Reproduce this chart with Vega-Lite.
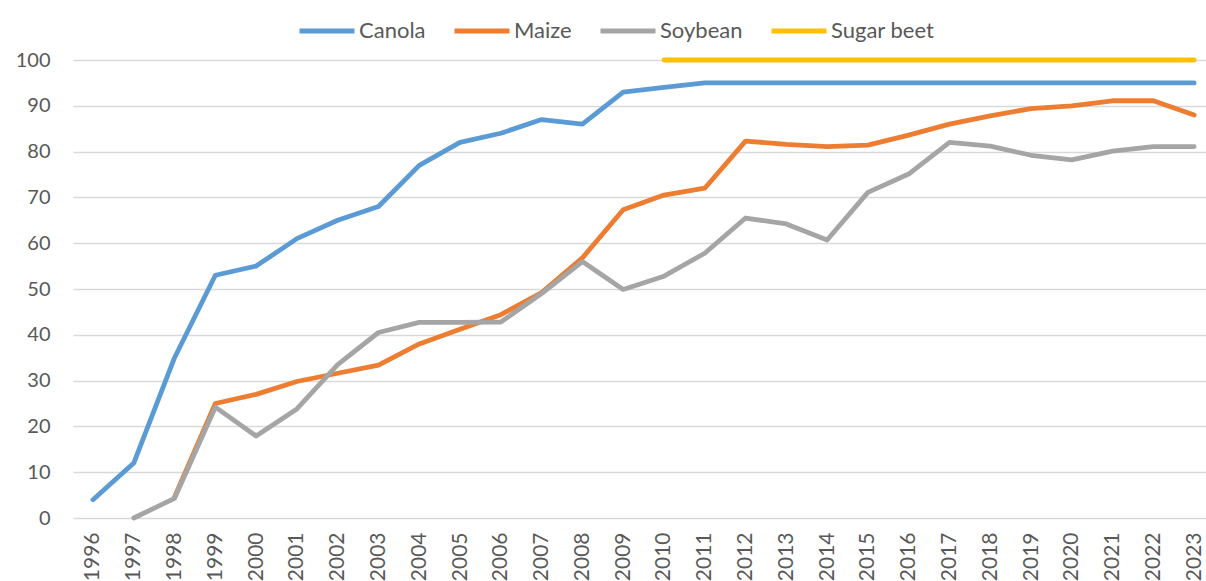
{
  "$schema": "https://vega.github.io/schema/vega-lite/v6.json",
  "width": 1133,
  "height": 458,
  "autosize": {"type": "none"},
  "padding": {"left": 73, "top": 60, "right": 0, "bottom": 63},
  "background": "white",
  "config": {
    "view": {"stroke": null},
    "font": "Lato"
  },
  "data": {"values": [
    {"year": 1996, "crop": "Canola", "pct": 4},
    {"year": 1997, "crop": "Canola", "pct": 12},
    {"year": 1998, "crop": "Canola", "pct": 35},
    {"year": 1999, "crop": "Canola", "pct": 53},
    {"year": 2000, "crop": "Canola", "pct": 55},
    {"year": 2001, "crop": "Canola", "pct": 61},
    {"year": 2002, "crop": "Canola", "pct": 65},
    {"year": 2003, "crop": "Canola", "pct": 68},
    {"year": 2004, "crop": "Canola", "pct": 77},
    {"year": 2005, "crop": "Canola", "pct": 82},
    {"year": 2006, "crop": "Canola", "pct": 84},
    {"year": 2007, "crop": "Canola", "pct": 87},
    {"year": 2008, "crop": "Canola", "pct": 86},
    {"year": 2009, "crop": "Canola", "pct": 93},
    {"year": 2010, "crop": "Canola", "pct": 94},
    {"year": 2011, "crop": "Canola", "pct": 95},
    {"year": 2012, "crop": "Canola", "pct": 95},
    {"year": 2013, "crop": "Canola", "pct": 95},
    {"year": 2014, "crop": "Canola", "pct": 95},
    {"year": 2015, "crop": "Canola", "pct": 95},
    {"year": 2016, "crop": "Canola", "pct": 95},
    {"year": 2017, "crop": "Canola", "pct": 95},
    {"year": 2018, "crop": "Canola", "pct": 95},
    {"year": 2019, "crop": "Canola", "pct": 95},
    {"year": 2020, "crop": "Canola", "pct": 95},
    {"year": 2021, "crop": "Canola", "pct": 95},
    {"year": 2022, "crop": "Canola", "pct": 95},
    {"year": 2023, "crop": "Canola", "pct": 95},
    {"year": 1998, "crop": "Maize", "pct": 4.6},
    {"year": 1999, "crop": "Maize", "pct": 25},
    {"year": 2000, "crop": "Maize", "pct": 27},
    {"year": 2001, "crop": "Maize", "pct": 29.8},
    {"year": 2002, "crop": "Maize", "pct": 31.6},
    {"year": 2003, "crop": "Maize", "pct": 33.4},
    {"year": 2004, "crop": "Maize", "pct": 38},
    {"year": 2005, "crop": "Maize", "pct": 41.2},
    {"year": 2006, "crop": "Maize", "pct": 44.4},
    {"year": 2007, "crop": "Maize", "pct": 49.2},
    {"year": 2008, "crop": "Maize", "pct": 56.8},
    {"year": 2009, "crop": "Maize", "pct": 67.3},
    {"year": 2010, "crop": "Maize", "pct": 70.5},
    {"year": 2011, "crop": "Maize", "pct": 72},
    {"year": 2012, "crop": "Maize", "pct": 82.3},
    {"year": 2013, "crop": "Maize", "pct": 81.6},
    {"year": 2014, "crop": "Maize", "pct": 81.1},
    {"year": 2015, "crop": "Maize", "pct": 81.4},
    {"year": 2016, "crop": "Maize", "pct": 83.6},
    {"year": 2017, "crop": "Maize", "pct": 86},
    {"year": 2018, "crop": "Maize", "pct": 87.8},
    {"year": 2019, "crop": "Maize", "pct": 89.4},
    {"year": 2020, "crop": "Maize", "pct": 90},
    {"year": 2021, "crop": "Maize", "pct": 91.1},
    {"year": 2022, "crop": "Maize", "pct": 91.1},
    {"year": 2023, "crop": "Maize", "pct": 88},
    {"year": 1997, "crop": "Soybean", "pct": 0},
    {"year": 1998, "crop": "Soybean", "pct": 4.3},
    {"year": 1999, "crop": "Soybean", "pct": 24.2},
    {"year": 2000, "crop": "Soybean", "pct": 17.9},
    {"year": 2001, "crop": "Soybean", "pct": 23.8},
    {"year": 2002, "crop": "Soybean", "pct": 33.5},
    {"year": 2003, "crop": "Soybean", "pct": 40.5},
    {"year": 2004, "crop": "Soybean", "pct": 42.7},
    {"year": 2005, "crop": "Soybean", "pct": 42.7},
    {"year": 2006, "crop": "Soybean", "pct": 42.8},
    {"year": 2007, "crop": "Soybean", "pct": 49},
    {"year": 2008, "crop": "Soybean", "pct": 56},
    {"year": 2009, "crop": "Soybean", "pct": 49.9},
    {"year": 2010, "crop": "Soybean", "pct": 52.8},
    {"year": 2011, "crop": "Soybean", "pct": 57.8},
    {"year": 2012, "crop": "Soybean", "pct": 65.5},
    {"year": 2013, "crop": "Soybean", "pct": 64.2},
    {"year": 2014, "crop": "Soybean", "pct": 60.7},
    {"year": 2015, "crop": "Soybean", "pct": 71.1},
    {"year": 2016, "crop": "Soybean", "pct": 75.1},
    {"year": 2017, "crop": "Soybean", "pct": 82},
    {"year": 2018, "crop": "Soybean", "pct": 81.2},
    {"year": 2019, "crop": "Soybean", "pct": 79.2},
    {"year": 2020, "crop": "Soybean", "pct": 78.2},
    {"year": 2021, "crop": "Soybean", "pct": 80.1},
    {"year": 2022, "crop": "Soybean", "pct": 81.1},
    {"year": 2023, "crop": "Soybean", "pct": 81.1},
    {"year": 2010, "crop": "Sugar beet", "pct": 100},
    {"year": 2011, "crop": "Sugar beet", "pct": 100},
    {"year": 2012, "crop": "Sugar beet", "pct": 100},
    {"year": 2013, "crop": "Sugar beet", "pct": 100},
    {"year": 2014, "crop": "Sugar beet", "pct": 100},
    {"year": 2015, "crop": "Sugar beet", "pct": 100},
    {"year": 2016, "crop": "Sugar beet", "pct": 100},
    {"year": 2017, "crop": "Sugar beet", "pct": 100},
    {"year": 2018, "crop": "Sugar beet", "pct": 100},
    {"year": 2019, "crop": "Sugar beet", "pct": 100},
    {"year": 2020, "crop": "Sugar beet", "pct": 100},
    {"year": 2021, "crop": "Sugar beet", "pct": 100},
    {"year": 2022, "crop": "Sugar beet", "pct": 100},
    {"year": 2023, "crop": "Sugar beet", "pct": 100}
  ]},
  "mark": {"type": "line", "strokeWidth": 4.8, "strokeCap": "round", "strokeJoin": "round", "clip": false},
  "encoding": {
    "x": {
      "field": "year", "type": "quantitative",
      "scale": {"domain": [1995.51, 2023.29], "nice": false, "zero": false},
      "axis": {
        "title": null, "grid": false, "domain": false, "ticks": false,
        "values": [1996,1997,1998,1999,2000,2001,2002,2003,2004,2005,2006,2007,2008,2009,2010,2011,2012,2013,2014,2015,2016,2017,2018,2019,2020,2021,2022,2023],
        "format": "d", "labelAngle": -90, "labelPadding": 14,
        "labelFont": "Lato", "labelFontSize": 21, "labelColor": "#595959",
        "labelOverlap": false, "labelFlush": false
      }
    },
    "y": {
      "field": "pct", "type": "quantitative",
      "scale": {"domain": [0, 100], "nice": false},
      "axis": {
        "title": null, "domain": false, "ticks": false,
        "values": [0,10,20,30,40,50,60,70,80,90,100],
        "gridColor": "#d9d9d9", "gridWidth": 1.6,
        "labelPadding": 23, "labelFont": "Lato", "labelFontSize": 20, "labelColor": "#595959"
      }
    },
    "color": {
      "field": "crop", "type": "nominal",
      "scale": {"domain": ["Canola", "Maize", "Soybean", "Sugar beet"], "range": ["#5B9BD5", "#ED7D31", "#A5A5A5", "#FFC000"]},
      "legend": {
        "title": null, "orient": "none", "direction": "horizontal",
        "legendX": 224, "legendY": -59,
        "symbolType": "stroke", "symbolSize": 3025, "symbolStrokeWidth": 5,
        "labelFont": "Lato", "labelFontSize": 22, "labelColor": "#595959",
        "labelOffset": 2, "columnPadding": 18, "padding": 0
      }
    }
  }
}
